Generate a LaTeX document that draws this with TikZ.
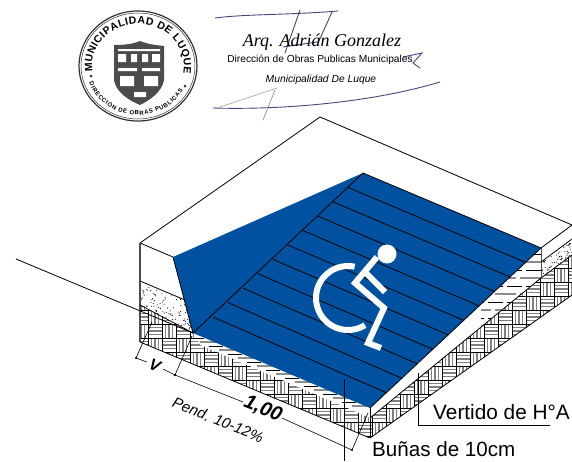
\documentclass[tikz,border=0pt]{standalone}
\usepackage{fontspec}
\setmainfont{Liberation Sans}
\newfontfamily\stampfont{Liberation Serif}
\usetikzlibrary{decorations.text}
\definecolor{rampblue}{RGB}{0,82,160}
\definecolor{penink}{RGB}{70,70,120}
\tikzstyle{line} = [draw, line width=.8pt, fill=none]
\begin{document}
\begin{tikzpicture}[
    x=1pt,y=-1pt,
    weave/.style={draw=black!50, line width=1.1pt},
    cell/.style={draw=black, line width=.4pt},
    pen/.style={draw=penink, line width=.9pt, line cap=round},
    chair/.style={draw=white, line width=6pt},
    label/.style={inner sep=0pt, font=\fontsize{20.8}{22}\selectfont},
    stamptext/.style={decorate, decoration={text along path, text align={fit to path}, text={#1}}}
  ]
  \useasboundingbox (0,0) rectangle (572,461);

  % slab corners
  \coordinate (ctop) at (320,117);
  \coordinate (cleft) at (140,243);
  \coordinate (cright) at (572,225);
  \coordinate (cbase) at (140,342);
  \coordinate (bleft) at (173,257);
  \coordinate (btop) at (363,173);
  \coordinate (bright) at (541,248);
  \coordinate (bfront) at (370,408);
  \coordinate (bfold) at (193,333);
  \coordinate (hfront) at (370,418);
  \coordinate (hbase) at (370,438);
  \coordinate (hright) at (541,278);

  % woven layer
  \begin{scope}
    \clip (140,305) -- (bfold) -- (200,345) -- (hfront) -- (hright) -- (572,255) -- (572,295) -- (hbase) -- (cbase) -- cycle;
    \foreach \i in {0,...,32} \foreach \j in {0,...,15} {
      \pgfmathsetmacro{\cx}{134+14*\i}
      \pgfmathsetmacro{\cy}{240+14*\j}
      \begin{scope}[shift={(\cx,\cy)}]
        \ifodd\numexpr\i+\j\relax
          \draw[weave] (0,3.5) -- (14,3.5) (0,7) -- (14,7) (0,10.5) -- (14,10.5);
        \else
          \draw[weave] (3.5,0) -- (3.5,14) (7,0) -- (7,14) (10.5,0) -- (10.5,14);
        \fi
        \draw[cell] (0,0) rectangle (14,14);
      \end{scope}
    }
  \end{scope}

  % sand layer
  \pgfmathsetseed{41}
  \begin{scope}
    \clip (140,281) -- (185,300) -- (bfold) -- (140,305) -- cycle;
    \foreach \k in {1,...,230} {
      \fill ({140+53*rnd},{281+52*rnd}) circle (.55);
    }
  \end{scope}
  \begin{scope}
    \clip (541,262) -- (572,239) -- (572,255) -- (541,278) -- cycle;
    \foreach \k in {1,...,130} {
      \fill ({541+31*rnd},{239+39*rnd}) circle (.55);
    }
  \end{scope}

  % concrete strip
  \foreach \n in {0,...,8} {
    \draw[black, line width=.8pt] ({190+19*\n},{338+8*\n}) -- ({204+19*\n},{338+8*\n});
    \draw[black!45, line width=1.1pt] ({200+19*\n},{342+8*\n}) -- ({216+19*\n},{342+8*\n});
  }
  \begin{scope}
    \clip (bfront) -- (bright) -- (hright) -- (hfront) -- cycle;
    \foreach \n in {0,...,10} {
      \draw[black, line width=.8pt, dash pattern=on 15pt off 4pt] (541,{254+16*\n}) -- ++(-60,0);
      \draw[black!45, line width=1.1pt, dash pattern=on 21pt off 4pt] (541,{262+16*\n}) -- ++(-60,0);
      \draw[black, line width=.8pt] ({370+(418-(254+16*\n))*1.22},{254+16*\n}) -- ++(15,0);
      \draw[black!45, line width=1.1pt] ({370+(418-(262+16*\n))*1.22},{262+16*\n}) -- ++(20,0);
    }
  \end{scope}

  % ramp
  \fill[rampblue] (bleft) -- (btop) -- (bright) -- (bfront) -- (bfold) -- cycle;
  \foreach \n in {1,...,10} {
    \draw[line] ({363-15*\n},{173+14.4*\n}) -- ({541-15.4*\n},{248+14.5*\n});
  }
  \draw[line] (btop) -- (bfold) -- (bleft);
  \draw[line] (btop) -- (bright);
  \draw[line] (bleft) -- (cleft);

  % wheelchair
  \draw[chair] plot[domain=78:302,samples=40,smooth] ({348+32*cos(\x)},{298-32*sin(\x)});
  \draw[chair,miter limit=4] (377,257) -- (355,283) -- (384,308) -- (368,343) -- (381,348);
  \draw[chair] (365,272) -- (385,292);
  \fill[white] (387,254) circle (9.5);

  % outlines
  \draw[line] (cleft) -- (ctop) -- (cright) -- (bright);
  \draw[line,black!70,line width=1.2pt] (cleft) -- (cbase);
  \draw[line,black!70] (bright) -- (hright);
  \draw[line] (140,281) -- (185,300);
  \draw[line] (140,305) -- (bfold);
  \draw[line] (cbase) -- (hbase) -- (572,295);
  \draw[line] (hfront) -- (hright) -- (572,255);
  \draw[line] (541,262) -- (572,239);
  \draw[line] (hfront) -- (hbase);
  \draw[line] (bright) -- (bfront);
  \draw[line] (bfront) -- (hfront);
  \draw[line] (16,259) -- (bfold);

  % dimensions
  \coordinate (dima) at (136,358);
  \coordinate (dimb) at (175,375);
  \coordinate (dimc) at (352,450);
  \draw[line,line width=.6pt] (dima) -- (152,322);
  \draw[line,line width=.6pt] (dimb) -- (192,336);
  \draw[line,line width=.6pt] (dimc) -- (368,413);
  \draw[line,line width=.6pt] (dima) -- (147,362);
  \draw[line,line width=.6pt] (163,369) -- (dimb) -- (243,402);
  \draw[line,line width=.6pt] (282,418) -- (dimc);
  \fill (dima) circle (1.1);
  \fill (dimb) circle (1.3);
  \fill (dimc) circle (1.1);
  \node[inner sep=0pt,rotate=-22,font=\fontsize{16}{18}\selectfont\bfseries\itshape] (vlabel) at (155,365) {V};
  \node[inner sep=0pt,rotate=-22,font=\fontsize{20}{21}\selectfont\bfseries\itshape] (width) at (263,409) {1,00};
  \node[inner sep=0pt,rotate=-22,font=\fontsize{15}{17}\selectfont\itshape] (slope) at (218,420) {Pend. 10-12\%};

  % callouts
  \node[label,anchor=west] (vertido) at (433,412) {Vertido de H°A};
  \node[label,anchor=west,font=\fontsize{20.6}{21}\selectfont] (bunas) at (372,449.5) {Buñas de 10cm};
  \coordinate (leadv) at (550,425);
  \coordinate (leadb) at (344,461);
  \draw[line,line width=.7pt] (418,373) -- (418,425) -- (leadv);
  \draw[line,line width=.7pt] (344,379) -- (leadb);

  % seal
  \draw[black!80,line width=1.2pt] (138,66) ellipse (59 and 55);
  \draw[black!80,line width=.5pt] (138,66) ellipse (57 and 53);
  \path[stamptext={|\fontsize{10.5}{11}\selectfont\bfseries|MUNICIPALIDAD DE LUQUE}]
    (92.5,71.8) .. controls (88.6,46.5) and (110,24) .. (138,24) .. controls (166.6,24) and (188.3,47.6) .. (183.3,73.3);
  \path[stamptext={|\fontsize{6}{7}\selectfont\bfseries|DIRECCIÓN DE OBRAS PUBLICAS}]
    (89.1,82.8) .. controls (96,100.7) and (113.4,113.1) .. (133.5,114.8) .. controls (153.6,116.5) and (172.9,107) .. (183,90.5);
  \fill[black!80] (91,76) circle (1.5) (185,86) circle (1.5);
  \fill[black!70] (114,45) .. controls (125,45) and (133,44) .. (140,41) .. controls (147,44) and (155,45) .. (164,46)
    -- (164,80) .. controls (162,92) and (150,100) .. (140,105) .. controls (128,100) and (116,92) .. (114,80) -- cycle;
  \fill[white] (118,49) rectangle (160,51) (118,54) rectangle (126,62) (131,54) rectangle (137,62) (142,54) rectangle (148,62)
    (152,54) rectangle (160,62) (118,68) rectangle (137,71) (142,68) rectangle (160,71) (120,76) rectangle (134,86)
    (144,76) rectangle (158,86) (134,92) rectangle (146,97);

  % signature
  \draw[pen] (215,18) .. controls (245,14) and (290,15) .. (338,11);
  \draw[pen] (213,108) .. controls (280,110) and (370,103) .. (440,82);
  \draw[pen,black!40,line width=.6pt] (220,107) -- (277,88);
  \draw[pen] (300,10) -- (285,53);
  \draw[pen] (332,12) -- (318,43);
  \draw[pen] (283,47) -- (317,42);
  \draw[pen,line width=.6pt,black!50] (275,90) -- (263,120);
  \draw[pen] (403,57) -- (422,53) -- (413,63) -- (420,68);
  \node[inner sep=0pt,font=\stampfont\itshape\fontsize{18}{20}\selectfont] (arq) at (322,42) {Arq. Adrián Gonzalez};
  \node[inner sep=0pt,font=\fontsize{10.2}{11}\selectfont] (direccion) at (320,60) {Dirección de Obras Publicas Municipales};
  \node[inner sep=0pt,font=\itshape\fontsize{10.3}{11}\selectfont] (muni) at (321,80) {Municipalidad De Luque};
\end{tikzpicture}
\end{document}
